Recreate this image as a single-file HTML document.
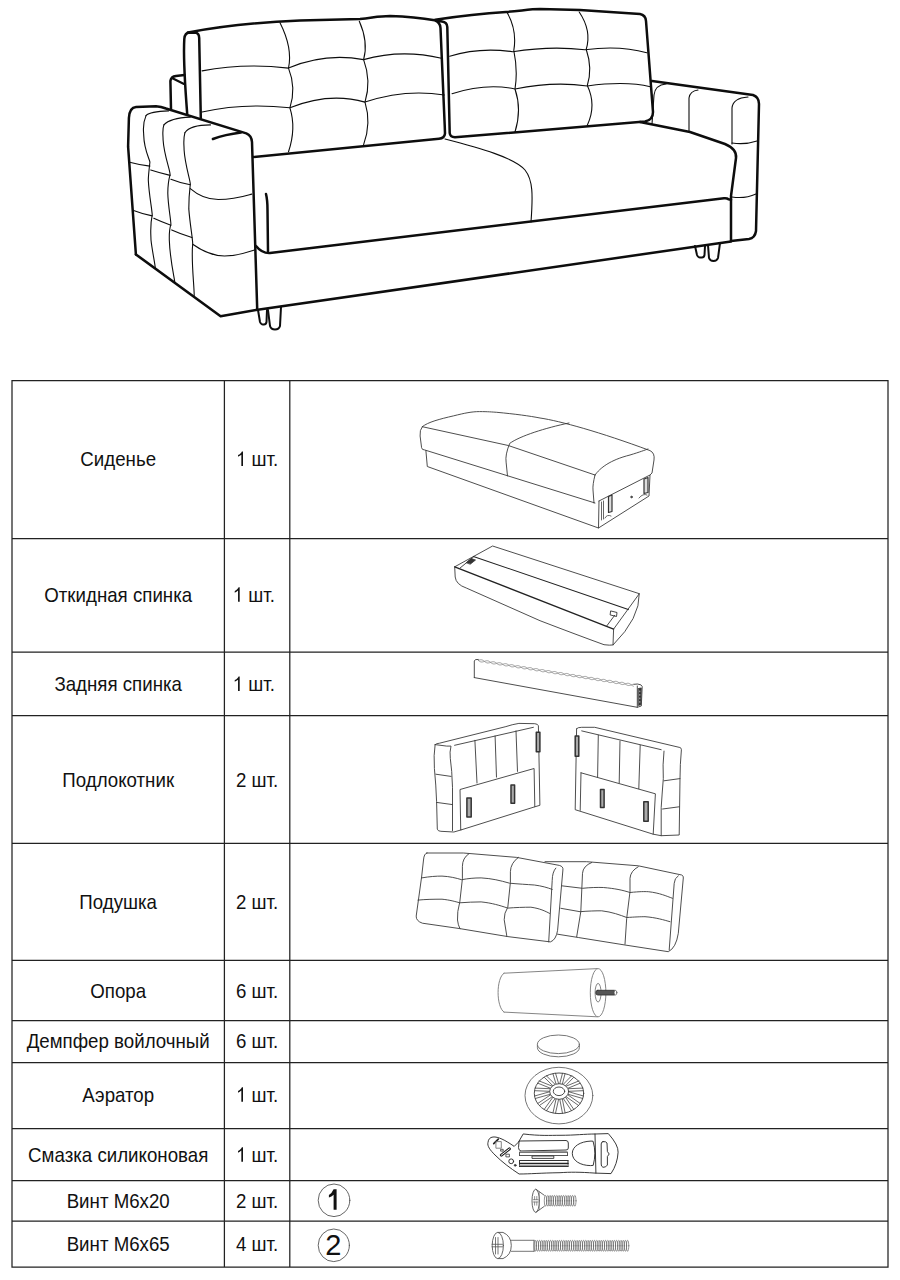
<!DOCTYPE html>
<html><head><meta charset="utf-8"><title>Комплектация</title>
<style>
html,body{margin:0;padding:0;background:#fff;width:900px;height:1280px;overflow:hidden}
svg{position:absolute;left:0;top:0;display:block}
</style></head><body>
<svg width="900" height="1280" viewBox="0 0 900 1280">
<rect width="900" height="1280" fill="#fff"/>
<g fill="none" stroke="#0d0d0d" stroke-linecap="round" stroke-linejoin="round">
<g stroke-width="2.5">
<!-- back frame left -->
<path d="M172,78 L 184,84" stroke-width="2.1"/>
<path d="M171,109 L170.4,81 Q171,76.5 176,76 L184.4,75"/>
<!-- left cushion panel -->
<path d="M187.2,114 C 185.5,90 183,62 184.3,39 Q 184.8,32.8 189.5,32.6 L 196,32.8 Q 199,33.3 199.2,38 L 200.8,118"/>
<!-- left cushion outline -->
<path d="M188,32.5 C 225,25.5 265,22 300,20.5 L 360,19 C 372,18 378,16 390,16 C 410,16.5 425,18.5 434.7,20.3 Q 440,22 440.5,28 L 444.7,125 L 445,133.5 Q 444.5,138.3 439,138.8 L 253,157"/>
<!-- right cushion -->
<path d="M435.3,19.7 C 460,16 490,13 506,12 C 520,11 530,9 540,9 L 580,10 L 640,14 Q 645.5,15 646,21 L 653,112 Q 653,120 645,121.5 L 455,137.3 Q 450,137 449.7,133 L 447.3,27 Q 447,22 442,21.5 L 437.3,21"/>
<!-- right arm -->
<path d="M652,81 L 753,95 Q 759,97 759,104 L 756,231 Q 755,238 749,239 L 731,241"/>
<path d="M640,122 L 690,132 L 725,144 Q 737,149 736,158 L 731,196 L 731,241"/>
<!-- left arm -->
<path d="M135.9,254.4 L 128.1,146.7 L 128.9,118 Q 129.5,107.5 136,107 L 156,106.2 Q 161,106.5 166,108.5 L 246.3,133.4 Q 251.5,135.5 252,142 L 257.2,308.9"/>
<path d="M212.9,139 Q 225,134.5 241,132.5"/>
<!-- base -->
<path d="M135.9,254.4 L 220.6,316.2 L 256,310 L 731,241.5"/>
<!-- seat front top -->
<path d="M256,246 Q 262,253.5 270,253 L 724,198.3 Q 727,198 728.5,199.3 L 731,199.8"/>
<path d="M266,194 Q 267.5,200 267.5,210 L 268,251"/>
</g>
<g stroke-width="2">
<path d="M258,310 L 260,322 Q 261,324.5 263,324.5 L 264,324.5 Q 266,324.5 266.5,322 L 267,310"/>
<path d="M268,310 L 270,326 Q 271,329.5 275,329.5 Q 279,329.5 280,326 L 281,307"/>
<path d="M695,246 L 697,255 Q 698,257.5 700,257.5 L 702,257.5 Q 704,257.5 704.5,255 L 705,246"/>
<path d="M708,245 L 709,258 Q 710,261 713.5,261 Q 717,261 718,258 L 720,243"/>
</g>
<g stroke-width="1.1">

<!-- left cushion tufts -->
<path d="M280,22.8 Q292.8,48.1 288.5,68.1 Q296.4,87.9 289.9,107.8 Q296.4,128.2 288.5,151.7"/>
<path d="M359.3,21.3 Q368.5,42.0 363.6,59.6 Q371.5,80.8 365,102.1 Q371.5,123.2 363.6,144.6"/>
<path d="M202.1,70.9 Q243.9,62.7 288.5,68.1 Q324.6,52.6 363.6,59.6 Q401.2,48.9 441.5,58.2"/>
<path d="M202.1,112 Q243.2,102.7 289.9,107.8 Q328.9,91.9 365,102.1 Q404.7,88.6 444.4,95"/>
<!-- right cushion tufts -->
<path d="M506.8,12 Q517.3,30.1 513.8,50.5 Q518.0,70.8 515,89 Q522.0,109.5 515,132"/>
<path d="M579.2,12 Q591.9,30.8 586.2,49.3 Q592.7,68.6 587.3,85.5 Q596.7,105.2 587.3,125.2"/>
<path d="M449.7,56.3 Q478.8,47.0 512.7,51.7 Q551.1,45.7 585,49.8 Q619.5,45.1 646.8,52.8"/>
<path d="M452,93.7 Q485.9,82.8 515,89 Q553.4,81.1 587.3,86 Q625.8,80.8 650.3,86.7"/>
<!-- seat division -->
<path d="M445,139 C 480,148 515,158 525,170 C 533,180 533,195 531,222"/>
<!-- right arm tufts -->
<path d="M652,124 L 654,95 Q 655,85 666,84"/>
<path d="M689,131 L 689,98 Q 690,91 698,90"/>
<path d="M732,144 L 732,108 Q 733,98 748,97"/>
<path d="M732,143 Q 745,145 757,141"/>
<path d="M732,197 Q 745,199 756,194"/>
<!-- left arm tufts -->
<path d="M146,115.6 Q 150,111.5 168.5,110.9"/>
<path d="M146,115.6 C 142,125 143.7,131 143.7,135 C 144,150 149.9,160 149.9,162.2 C 149,170 148.3,177.8 148.3,180 C 149,195 152.2,210 152.2,215.1 C 150,225 150.7,230 151,240 C 152,250 155.3,265 155.3,268.4"/>
<path d="M163.9,124.9 Q 170,118 190.3,117.1"/>
<path d="M163.9,124.9 C 162,130 163.1,135 163.1,140 C 164,155 170.1,170 170.1,174.7 C 168,182 167.8,190 167.8,193.3 C 168,205 170.9,220 170.9,224.4 C 169,230 169.3,235 169.3,240 C 170,260 174.8,280 174.8,282.4"/>
<path d="M184.9,132.7 Q 190,125 210.5,124.9"/>
<path d="M184.9,132.7 C 183,140 184.1,145 184.1,150 C 185,165 190.3,180 190.3,184 C 189,195 188.8,205 188.8,208.9 C 190,225 192.7,238 192.7,244 C 191,260 194.2,285 194.2,295.6"/>
<path d="M129.7,162.2 Q 140,165 149.9,166.1"/>
<path d="M150.7,170 Q 160,173 170.1,175.4"/>
<path d="M170.9,179.3 Q 180,183 190.3,184.8"/>
<path d="M190.3,188.6 C 200,197 210,199.5 218.3,199.5 C 235,199.5 245,196 251.7,194.1"/>
<path d="M133.6,210.4 Q 143,214 152.2,215.9"/>
<path d="M153.8,218.2 Q 162,222 170.9,225.2"/>
<path d="M171.7,229.9 Q 181,234 191.9,237.6"/>
<path d="M192.7,244.3 C 205,253 215,256 224.5,256 C 238,256 248,252 254.9,249.8"/>
</g>
</g>

<path stroke="#222" stroke-width="1.25" stroke-linecap="square" fill="none" d="M12,380.5H888M12,538.5H888M12,652H888M12,715.5H888M12,843.4H888M12,960.3H888M12,1020.6H888M12,1062.5H888M12,1128.7H888M12,1180.6H888M12,1221.2H888M12,1267.2H888M12,380.5V1267.2M224.4,380.5V1267.2M289.8,380.5V1267.2M888,380.5V1267.2"/>
<g font-family="Liberation Sans, sans-serif" font-size="18.7" fill="#111" text-anchor="middle"><text x="118.2" y="465.9" transform="matrix(1,0,0,1.075,0,-34.94)">Сиденье</text><text x="246.42" y="465.9" transform="matrix(1,0,0,1.075,0,-34.94)" text-anchor="start"> шт.</text><text x="118.2" y="601.8" transform="matrix(1,0,0,1.075,0,-45.13)">Откидная спинка</text><text x="243.12" y="601.8" transform="matrix(1,0,0,1.075,0,-45.13)" text-anchor="start"> шт.</text><text x="118.2" y="690.9" transform="matrix(1,0,0,1.075,0,-51.82)">Задняя спинка</text><text x="243.12" y="690.9" transform="matrix(1,0,0,1.075,0,-51.82)" text-anchor="start"> шт.</text><text x="118.2" y="787.0" transform="matrix(1,0,0,1.075,0,-59.02)">Подлокотник</text><text x="257.1" y="787.0" transform="matrix(1,0,0,1.075,0,-59.02)">2 шт.</text><text x="118.2" y="908.8" transform="matrix(1,0,0,1.075,0,-68.16)">Подушка</text><text x="257.1" y="908.8" transform="matrix(1,0,0,1.075,0,-68.16)">2 шт.</text><text x="118.2" y="998.1" transform="matrix(1,0,0,1.075,0,-74.86)">Опора</text><text x="257.1" y="998.1" transform="matrix(1,0,0,1.075,0,-74.86)">6 шт.</text><text x="118.2" y="1048.2" transform="matrix(1,0,0,1.075,0,-78.61)">Демпфер войлочный</text><text x="257.1" y="1048.2" transform="matrix(1,0,0,1.075,0,-78.61)">6 шт.</text><text x="118.2" y="1101.8" transform="matrix(1,0,0,1.075,0,-82.63)">Аэратор</text><text x="246.42" y="1101.8" transform="matrix(1,0,0,1.075,0,-82.63)" text-anchor="start"> шт.</text><text x="118.2" y="1161.8" transform="matrix(1,0,0,1.075,0,-87.13)">Смазка силиконовая</text><text x="246.42" y="1161.8" transform="matrix(1,0,0,1.075,0,-87.13)" text-anchor="start"> шт.</text><text x="118.2" y="1207.8" transform="matrix(1,0,0,1.075,0,-90.58)">Винт М6х20</text><text x="257.1" y="1207.8" transform="matrix(1,0,0,1.075,0,-90.58)">2 шт.</text><text x="118.2" y="1251.0" transform="matrix(1,0,0,1.075,0,-93.82)">Винт М6х65</text><text x="257.1" y="1251.0" transform="matrix(1,0,0,1.075,0,-93.82)">4 шт.</text></g>
<g fill="#111"><path d="M242.99,465.90L241.34,465.90L241.34,454.64Q240.75,455.25 239.78,455.86Q238.82,456.47 238.05,456.77L238.05,455.06Q239.43,454.37 240.46,453.38Q241.49,452.38 241.92,451.45L242.99,451.45Z"/><path d="M239.69,601.80L238.04,601.80L238.04,590.54Q237.45,591.15 236.48,591.76Q235.52,592.37 234.75,592.67L234.75,590.96Q236.13,590.27 237.16,589.28Q238.19,588.28 238.62,587.35L239.69,587.35Z"/><path d="M239.69,690.90L238.04,690.90L238.04,679.64Q237.45,680.25 236.48,680.86Q235.52,681.47 234.75,681.77L234.75,680.06Q236.13,679.37 237.16,678.38Q238.19,677.38 238.62,676.45L239.69,676.45Z"/><path d="M242.99,1101.80L241.34,1101.80L241.34,1090.54Q240.75,1091.15 239.78,1091.76Q238.82,1092.37 238.05,1092.67L238.05,1090.96Q239.43,1090.27 240.46,1089.28Q241.49,1088.28 241.92,1087.35L242.99,1087.35Z"/><path d="M242.99,1161.80L241.34,1161.80L241.34,1150.54Q240.75,1151.15 239.78,1151.76Q238.82,1152.37 238.05,1152.67L238.05,1150.96Q239.43,1150.27 240.46,1149.28Q241.49,1148.28 241.92,1147.35L242.99,1147.35Z"/></g>
<g fill="none" stroke="#3a3a3a" stroke-width="0.9" stroke-linejoin="round" stroke-linecap="round">
<!-- Сиденье -->
<path d="M422.3,426.7 C 428,422 440,419 453.4,415.9 C 465,413 472,411.6 479.4,411.6 C 488,411.6 492,412 496.7,412.3 C 515,414 530,416 540,418 C 560,421 600,432 650,450.6 Q 655,453 654,460 L 652,473 L 650,475"/>
<path d="M422.3,426.7 Q 419.5,430 420.1,436 L 421.6,447.7 Q 422,450 424.5,449.9 L 595,503"/>
<path d="M422.3,426.7 L 508.3,445.5 L 595,475"/>
<path d="M569,423 C 545,428 520,436 509.7,443.4 Q 505,455 506.1,462.1 L 507.5,475.9"/>
<path d="M595,475 C 600,468 610,460 630,455 C 640,452 645,450 648,449"/>
<path d="M595,475 Q 592.5,485 593,490 L 594,503"/>
<path d="M425.9,450.6 L 427.3,466.5 L 598.5,528 L 599,501"/>
<path d="M599,501 L 650,475 L 649,496 L 598.5,528"/>
<path d="M608.5,496.5 L 612,495 L 612,511.5 L 608.5,512.5 Z M 644,479 L 648,477.5 L 648,492.5 L 644,493.5 Z" stroke="#333" stroke-width="1.2" fill="#ddd"/>
<circle cx="631.5" cy="497" r="0.8" fill="#444"/>
<path d="M601.5,502 L 601.5,520 M 603.5,501 L 603.5,519 M 605,518 Q 607,514 611,516 M 639,498 Q 643,493 647,495" stroke="#555"/>
<!-- Откидная спинка -->
<path d="M454.7,566.8 L 492.6,546 L 639.3,593.7 L 613.6,629.1"/>
<path d="M454.7,566.8 L 613.6,629.1" stroke="#222" stroke-width="1.3"/>
<path d="M473.4,556.4 L 628.3,609.6" stroke="#222" stroke-width="1.1"/>
<path d="M454.7,566.8 L 455.2,577 Q 456,584.5 466.3,588 L 540,620.7 Q 580,636 604,644.7 Q 610,645.5 613,645"/>
<path d="M639.3,593.7 Q 640,618 613,645 L 613.6,629.1"/>
<path d="M459.2,568.7 L 473.4,557.1 M 606.7,626 L 614.7,615.3 M 611,611 L 617,612.5 L 616.5,616.5 L 610.5,615 Z" stroke="#333"/><path d="M466.5,562.5 L 471,558.5 L 475.5,560 L 470.5,564 Z" fill="#333" stroke="#333" stroke-width="0.8"/>
<!-- Задняя спинка -->
<path d="M474.3,677.6 L 474.3,661 Q 474.5,659 478.3,659.4 M 634,684.3 L 637.5,684 Q 642,684.5 642.2,686.5 L 641.3,706 L 637.3,707.3 L 474.3,677.6"/>
<path d="M637.3,686 L 637.3,707.3"/>
<path d="M638.6,688.5 L 641.2,688 L 640.8,704.8 L 638.6,705.3 Z" fill="#333" stroke="#333" stroke-width="0.9"/>
<path d="M639.8,691 v0.8 M639.8,694.5 v0.8 M639.8,698 v0.8 M639.8,701.5 v0.8" stroke="#ddd" stroke-width="0.8"/>
<path stroke="#777" stroke-width="0.7" d="M478.30,660.40 L478.84,660.82 L479.39,661.21 L479.94,661.54 L480.51,661.80 L481.09,661.96 L481.69,662.02 L482.30,661.99 L482.93,661.87 L483.56,661.68 L484.21,661.46 L484.85,661.22 L485.49,661.01 L486.13,660.84 L486.75,660.75 L487.36,660.75 L487.95,660.84 L488.53,661.04 L489.09,661.32 L489.64,661.67 L490.18,662.08 L490.72,662.50 L491.27,662.91 L491.81,663.29 L492.37,663.60 L492.94,663.82 L493.53,663.95 L494.13,663.98 L494.75,663.91 L495.38,663.77 L496.02,663.57 L496.67,663.34 L497.31,663.11 L497.95,662.91 L498.58,662.76 L499.20,662.70 L499.80,662.73 L500.39,662.85 L500.96,663.08 L501.52,663.39 L502.07,663.76 L502.61,664.17 L503.15,664.60 L503.69,665.00 L504.24,665.36 L504.81,665.64 L505.38,665.83 L505.97,665.93 L506.58,665.92 L507.21,665.83 L507.84,665.66 L508.48,665.45 L509.13,665.22 L509.77,664.99 L510.41,664.81 L511.03,664.69 L511.65,664.65 L512.24,664.72 L512.83,664.88 L513.39,665.13 L513.95,665.46 L514.49,665.85 L515.03,666.27 L515.57,666.69 L516.12,667.08 L516.67,667.42 L517.24,667.67 L517.82,667.83 L518.42,667.89 L519.03,667.86 L519.66,667.74 L520.30,667.56 L520.94,667.33 L521.59,667.10 L522.23,666.88 L522.86,666.72 L523.48,666.63 L524.09,666.62 L524.68,666.72 L525.26,666.91 L525.82,667.19 L526.37,667.55 L526.92,667.95 L527.46,668.37 L528.00,668.79 L528.55,669.16 L529.11,669.47 L529.68,669.69 L530.26,669.82 L530.87,669.85 L531.49,669.79 L532.12,669.64 L532.76,669.44 L533.40,669.21 L534.04,668.98 L534.68,668.78 L535.31,668.64 L535.93,668.57 L536.54,668.60 L537.12,668.73 L537.69,668.95 L538.25,669.26 L538.80,669.64 L539.34,670.05 L539.88,670.47 L540.43,670.88 L540.98,671.23 L541.54,671.51 L542.12,671.71 L542.71,671.80 L543.32,671.80 L543.94,671.70 L544.57,671.54 L545.21,671.33 L545.86,671.09 L546.50,670.87 L547.14,670.68 L547.77,670.56 L548.38,670.53 L548.98,670.59 L549.56,670.75 L550.13,671.01 L550.68,671.34 L551.23,671.73 L551.77,672.15 L552.31,672.57 L552.85,672.96 L553.41,673.29 L553.97,673.55 L554.56,673.71 L555.15,673.77 L555.77,673.73 L556.39,673.61 L557.03,673.43 L557.67,673.21 L558.32,672.97 L558.96,672.76 L559.59,672.59 L560.22,672.50 L560.83,672.50 L561.42,672.59 L561.99,672.78 L562.56,673.07 L563.11,673.42 L563.65,673.83 L564.19,674.25 L564.73,674.66 L565.28,675.04 L565.84,675.34 L566.41,675.57 L567.00,675.70 L567.60,675.73 L568.22,675.66 L568.85,675.52 L569.49,675.32 L570.13,675.09 L570.78,674.86 L571.42,674.66 L572.05,674.51 L572.67,674.45 L573.27,674.48 L573.86,674.60 L574.43,674.83 L574.99,675.14 L575.53,675.51 L576.08,675.92 L576.62,676.35 L577.16,676.75 L577.71,677.11 L578.27,677.39 L578.85,677.58 L579.44,677.68 L580.05,677.67 L580.67,677.58 L581.31,677.41 L581.95,677.20 L582.59,676.97 L583.24,676.74 L583.87,676.56 L584.50,676.44 L585.11,676.40 L585.71,676.46 L586.29,676.63 L586.86,676.88 L587.41,677.21 L587.96,677.60 L588.50,678.02 L589.04,678.44 L589.59,678.83 L590.14,679.17 L590.71,679.42 L591.29,679.58 L591.89,679.64 L592.50,679.61 L593.13,679.49 L593.76,679.30 L594.41,679.08 L595.05,678.85 L595.69,678.63 L596.33,678.47 L596.95,678.37 L597.56,678.37 L598.15,678.47 L598.73,678.66 L599.29,678.94 L599.84,679.30 L600.38,679.70 L600.92,680.12 L601.47,680.54 L602.01,680.91 L602.57,681.22 L603.14,681.44 L603.73,681.57 L604.33,681.60 L604.95,681.54 L605.58,681.39 L606.22,681.19 L606.87,680.96 L607.51,680.73 L608.15,680.53 L608.78,680.39 L609.40,680.32 L610.00,680.35 L610.59,680.48 L611.16,680.70 L611.72,681.01 L612.27,681.39 L612.81,681.80 L613.35,682.22 L613.89,682.62 L614.44,682.98 L615.00,683.26 L615.58,683.46 L616.17,683.55 L616.78,683.55 L617.40,683.45 L618.04,683.29 L618.68,683.07 L619.33,682.84 L619.97,682.62 L620.61,682.43 L621.23,682.31 L621.85,682.28 L622.44,682.34 L623.03,682.50 L623.59,682.75 L624.15,683.09 L624.69,683.48 L625.23,683.90 L625.77,684.32 L626.32,684.71 L626.87,685.04 L627.44,685.30 L628.02,685.46 L628.62,685.52 L629.23,685.48 L629.86,685.36 L630.50,685.18 L631.14,684.96 L631.79,684.72 L632.43,684.51 L633.06,684.34 L633.68,684.25 M478.30,660.40 L478.94,660.17 L479.58,659.97 L480.21,659.83 L480.83,659.76 L481.44,659.79 L482.02,659.92 L482.59,660.14 L483.15,660.45 L483.70,660.82 L484.24,661.24 L484.78,661.66 L485.33,662.06 L485.88,662.42 L486.44,662.70 L487.02,662.89 L487.61,662.99 L488.22,662.99 L488.84,662.89 L489.47,662.73 L490.11,662.51 L490.76,662.28 L491.40,662.06 L492.04,661.87 L492.67,661.75 L493.28,661.72 L493.88,661.78 L494.46,661.94 L495.03,662.19 L495.58,662.53 L496.13,662.92 L496.67,663.34 L497.21,663.76 L497.75,664.15 L498.31,664.48 L498.87,664.73 L499.46,664.90 L500.05,664.96 L500.67,664.92 L501.29,664.80 L501.93,664.62 L502.57,664.39 L503.22,664.16 L503.86,663.95 L504.49,663.78 L505.12,663.69 L505.73,663.68 L506.32,663.78 L506.89,663.97 L507.46,664.26 L508.01,664.61 L508.55,665.01 L509.09,665.44 L509.63,665.85 L510.18,666.22 L510.74,666.53 L511.31,666.76 L511.90,666.89 L512.50,666.91 L513.12,666.85 L513.75,666.71 L514.39,666.50 L515.03,666.27 L515.68,666.04 L516.32,665.84 L516.95,665.70 L517.57,665.63 L518.17,665.66 L518.76,665.79 L519.33,666.02 L519.89,666.32 L520.43,666.70 L520.98,667.11 L521.52,667.54 L522.06,667.94 L522.61,668.29 L523.17,668.58 L523.75,668.77 L524.34,668.86 L524.95,668.86 L525.57,668.77 L526.21,668.60 L526.85,668.39 L527.49,668.15 L528.14,667.93 L528.77,667.75 L529.40,667.63 L530.01,667.59 L530.61,667.65 L531.19,667.81 L531.76,668.07 L532.31,668.40 L532.86,668.79 L533.40,669.21 L533.94,669.63 L534.49,670.02 L535.04,670.35 L535.61,670.61 L536.19,670.77 L536.79,670.83 L537.40,670.80 L538.03,670.68 L538.66,670.49 L539.31,670.27 L539.95,670.04 L540.59,669.82 L541.23,669.66 L541.85,669.56 L542.46,669.56 L543.05,669.65 L543.63,669.85 L544.19,670.13 L544.74,670.48 L545.28,670.89 L545.82,671.31 L546.37,671.72 L546.91,672.10 L547.47,672.41 L548.04,672.63 L548.63,672.76 L549.23,672.79 L549.85,672.72 L550.48,672.58 L551.12,672.38 L551.77,672.15 L552.41,671.92 L553.05,671.72 L553.68,671.57 L554.30,671.51 L554.90,671.54 L555.49,671.67 L556.06,671.89 L556.62,672.20 L557.17,672.57 L557.71,672.99 L558.25,673.41 L558.79,673.81 L559.34,674.17 L559.91,674.45 L560.48,674.64 L561.07,674.74 L561.68,674.73 L562.31,674.64 L562.94,674.48 L563.58,674.26 L564.23,674.03 L564.87,673.81 L565.51,673.62 L566.13,673.50 L566.75,673.47 L567.34,673.53 L567.93,673.69 L568.49,673.94 L569.05,674.28 L569.59,674.67 L570.13,675.09 L570.67,675.51 L571.22,675.90 L571.77,676.23 L572.34,676.48 L572.92,676.64 L573.52,676.71 L574.13,676.67 L574.76,676.55 L575.40,676.37 L576.04,676.14 L576.69,675.91 L577.33,675.70 L577.96,675.53 L578.58,675.44 L579.19,675.43 L579.78,675.53 L580.36,675.72 L580.92,676.00 L581.47,676.36 L582.02,676.76 L582.56,677.19 L583.10,677.60 L583.65,677.97 L584.20,678.28 L584.78,678.51 L585.36,678.63 L585.97,678.66 L586.58,678.60 L587.22,678.45 L587.86,678.25 L588.50,678.02 L589.14,677.79 L589.78,677.59 L590.41,677.45 L591.03,677.38 L591.64,677.41 L592.22,677.54 L592.79,677.76 L593.35,678.07 L593.90,678.45 L594.44,678.86 L594.98,679.28 L595.53,679.69 L596.08,680.04 L596.64,680.33 L597.22,680.52 L597.81,680.61 L598.42,680.61 L599.04,680.52 L599.67,680.35 L600.31,680.14 L600.96,679.90 L601.60,679.68 L602.24,679.50 L602.87,679.38 L603.48,679.34 L604.08,679.40 L604.66,679.56 L605.23,679.82 L605.78,680.15 L606.33,680.54 L606.87,680.96 L607.41,681.38 L607.95,681.77 L608.51,682.10 L609.07,682.36 L609.66,682.52 L610.25,682.58 L610.87,682.55 L611.49,682.43 L612.13,682.24 L612.77,682.02 L613.42,681.78 L614.06,681.57 L614.69,681.41 L615.32,681.31 L615.93,681.31 L616.52,681.40 L617.09,681.60 L617.66,681.88 L618.21,682.23 L618.75,682.64 L619.29,683.06 L619.83,683.47 L620.38,683.85 L620.94,684.16 L621.51,684.38 L622.10,684.51 L622.70,684.54 L623.32,684.47 L623.95,684.33 L624.59,684.13 L625.23,683.90 L625.88,683.67 L626.52,683.47 L627.15,683.32 L627.77,683.26 L628.37,683.29 L628.96,683.41 L629.53,683.64 L630.09,683.95 L630.63,684.32 L631.18,684.74 L631.72,685.16 L632.26,685.56 L632.81,685.92 L633.37,686.20"/>
<!-- Подлокотник левый -->
<path d="M435.1,744.6 Q 436,743.5 439.5,743.2 L 505.9,726.6 Q 512,724.5 518.9,723.4 L 534.8,723.7 Q 538,724 538.4,725.8 L 539.9,805.3 L 534.8,806.8"/>
<path d="M435.1,744.6 Q 433.5,755 434.4,768.5 Q 436,785 436.6,801.7 L 437.3,829.2 Q 438,831.3 440.9,831.3 L 453.9,832 L 461.1,829.9"/>
<path d="M435.1,744.6 L 446.7,746.1 L 451,746.1 Q 449.5,752 450.3,758.4 Q 452,770 452.5,787.3 L 452.5,830.6"/>
<path d="M454.6,745.3 L 533.4,727.3"/>
<path d="M474.9,740.3 L 477,783 M 495.1,736 L 496.5,777.1 M 516,730.9 L 517.5,771.4"/>
<path d="M435.8,774.2 L 451,776.4 M 436.6,802.4 L 452.5,804.6"/>
<path d="M460.4,789.4 L 534.1,768.5 L 534.8,806.8 L 461.1,829.9 Z"/>
<path d="M466.9,798.1 h 4.3 v 18.8 h -4.3 Z M 511,785.1 h 3.6 v 18.1 h -3.6 Z M 536.3,732.3 h 3.6 v 19.5 h -3.6 Z" stroke="#333" stroke-width="1.5" fill="#aaa"/>
<!-- Подлокотник правый -->
<path d="M576.6,728.7 Q 577.5,727.3 581.7,727.3 L 594.7,727.3 L 679.9,747.5 Q 681.5,748 681.4,749.7 Q 680,765 680,778.6 L 679.2,835 L 661.2,835.7 L 653.2,834.2 L 575.2,809.7 L 576.6,728.7"/>
<path d="M581.7,730.9 L 661.2,749.7"/>
<path d="M664,751.1 Q 662.5,765 663.3,778.6 Q 662,795 661.2,807.5 L 661.2,835.7"/>
<path d="M664,780.8 L 680,778.6 M 662.6,809 L 679.2,806.8"/>
<path d="M598.3,735.2 L 597.6,777.1 M 620,741 L 619.2,782.9 M 640.2,745.3 L 638.8,788.7"/>
<path d="M581,772.8 L 655.4,793.8 L 653.2,834.2 M 581,772.8 L 580.2,810.4"/>
<path d="M575.2,736 h 3.6 v 20.2 h -3.6 Z M 600.5,789.4 h 3.6 v 18.1 h -3.6 Z M 643.8,801.7 h 4.4 v 19.5 h -4.4 Z" stroke="#333" stroke-width="1.5" fill="#aaa"/>
<!-- Подушка 2 (behind) -->
<path d="M545,861.7 L 586.7,861.7 L 638.3,865.8 L 681.7,875 Q 683.8,876 683.3,878 L 678.3,933.3 Q 676,948 668.3,951.7 L 625,945 L 578.3,937.5 L 557.5,934.2"/>
<path d="M678.3,875.8 Q 674.5,878 674.2,883.3 L 669.2,950"/>
<path d="M591.7,862.5 Q 583,866 582.5,873.3 L 580.8,911.7 L 576.7,936.7"/>
<path d="M638.3,866.7 Q 630.5,871 630,878.3 L 630,891.7 L 626.7,918.3 L 625,944.2"/>
<path d="M561.7,885.8 L 582.5,888.3 C 590,887.5 598,887.3 603.3,887.5 C 615,888.5 622,890 630,892.5 C 640,891.5 644,891.5 648.3,891.7 C 660,893 666,896 672.5,898.3"/>
<path d="M560.8,908.3 L 580,911.7 C 588,911 596,910.8 601.7,910.8 C 612,912 620,915 626.7,917.5 C 635,917 640,916.7 645,916.7 C 656,917.5 664,920 670,921.7"/>
<!-- Подушка 1 (front) -->
<path d="M426.9,853 L 463.3,853 L 516.7,857.4 L 559.3,865.4 Q 563.5,866.5 562.9,870 L 557.6,930.3 Q 556,940 550.4,941.9 L 507.8,936.6 L 459.8,928.6 L 422.4,923.2 Q 416,921 416.2,916.1 L 421.6,877 L 423.5,860 Q 424,853.5 426.9,853 Z" fill="#fff"/>
<path d="M555.8,868.1 Q 552.3,872 552.2,880.6 L 548.7,941.9"/>
<path d="M468.7,853.9 Q 462.5,858 462.4,866.3 L 462.4,878.8 L 459.8,901.9 Q 457,912 457.5,920 Q 458,925 460,928.8"/>
<path d="M518.4,857.4 Q 510.6,863 510.4,871.7 L 510.4,882.3 L 507.8,907.2 Q 504,913 504.2,919.7 L 506.9,936.6"/>
<path d="M421.6,877.9 C 430,876.5 436,876.1 442,876.1 C 450,876.5 456,878 461.6,879.7 C 468,878.5 474,877.9 481.1,877.9 C 492,878.5 500,880.5 509.6,883.2 C 518,884 527,884.5 534.4,885 C 542,886 547,887.5 552.2,889.4"/>
<path d="M418,900.1 C 426,899.3 434,899.2 442,899.2 C 450,900 455,901.5 459.8,902.8 C 467,902.3 474,901.9 481.1,901.9 C 492,903 500,905.5 507.8,908.1 C 515,907.5 524,907.2 530.9,907.2 C 540,908.5 545,911 549.6,913.4"/>
<!-- Опора -->
<path stroke="#777" d="M504,973.2 L 597.3,968.6 M 504,1012.1 L 597.3,1016.8 M 504,973.2 C 496,978 496,1007 504,1012.1"/>
<ellipse cx="598.1" cy="992.7" rx="7.8" ry="24.1" fill="#fff" stroke="#777"/>
<ellipse cx="598.1" cy="992.7" rx="3" ry="9.3" stroke="#777"/>
<rect x="595.8" y="990.3" width="20.5" height="4.7" rx="2" fill="#555" stroke="#333"/>
<ellipse cx="615.5" cy="992.65" rx="1.4" ry="2.3" fill="#fff" stroke="#444" stroke-width="0.6"/>
<!-- Демпфер -->
<path stroke="#666" d="M537.4,1044.8 L 537.4,1047.5 A 21 9.3 0 0 0 579.4,1047.5 L 579.4,1044.8"/>
<ellipse cx="558.4" cy="1044.3" rx="21" ry="9.3" fill="#fff" stroke="#666"/>
<!-- Аэратор -->
<ellipse cx="558.9" cy="1095.6" rx="33.9" ry="28.3" stroke="#666"/>
<ellipse cx="559" cy="1093.3" rx="24.7" ry="20.3"/>
<path stroke="#444" stroke-width="0.8" d="M568.9,1091.8 L583.4,1096.0 M568.2,1094.3 L582.7,1098.5 M567.8,1094.8 L580.1,1103.4 M566.4,1096.9 L578.6,1105.5 M565.6,1097.3 L573.7,1109.3 M563.4,1098.7 L571.5,1110.7 M562.3,1098.9 L565.1,1112.8 M559.8,1099.4 L562.5,1113.3 M558.6,1099.4 L555.5,1113.3 M556.1,1098.9 L553.0,1112.7 M555.0,1098.7 L546.4,1110.8 M552.9,1097.2 L544.3,1109.3 M552.0,1096.9 L539.4,1105.5 M550.6,1094.8 L537.9,1103.4 M550.2,1094.3 L535.3,1098.5 M549.5,1091.8 L534.6,1096.0 M549.8,1091.3 L534.9,1090.7 M549.9,1088.7 L535.0,1088.1 M550.8,1088.4 L538.1,1083.3 M551.8,1086.0 L539.1,1080.9 M553.0,1085.9 L544.5,1077.5 M554.8,1084.1 L546.3,1075.7 M556.1,1084.2 L553.0,1074.0 M558.6,1083.5 L555.5,1073.2 M559.8,1083.5 L562.5,1073.3 M562.3,1084.2 L565.0,1073.9 M563.5,1084.1 L571.7,1075.7 M565.4,1085.9 L573.5,1077.5 M566.6,1086.0 L578.9,1080.9 M567.6,1088.4 L579.9,1083.3 M568.5,1088.7 L583.0,1088.1 M568.6,1091.3 L583.1,1090.7"/>
<ellipse cx="559.2" cy="1091.5" rx="9.5" ry="7.8" fill="#fff"/>
<ellipse cx="559" cy="1091.3" rx="5.7" ry="4.3"/>
<!-- Смазка -->
<path d="M523.6,1134 C 540,1136 550,1135.3 560,1135.3 C 575,1135.3 585,1134 595,1134 L 608.3,1133.6 Q 618.5,1145 618.1,1152.2 Q 617.5,1164 611,1173.6 L 595,1173.1 C 580,1172 570,1172 560,1172.7 C 540,1173 530,1174 519.1,1174 C 510,1168 502,1162 495,1155 C 490,1150 487,1146 488,1142.4 Q 488.5,1137.5 493,1137 C 498,1136.5 505,1140 514.2,1146.4 L 518.2,1142.4 Z" stroke="#222"/>
<path d="M595,1134 L 595.9,1173.1" stroke="#222"/>
<path d="M519.5,1141 L 566,1140.5 Q 568.3,1140.7 568.3,1143 L 568.3,1148 Q 568.3,1150 566,1150 L 521,1151 Q 518.5,1150.5 518.5,1148 Z" stroke="#222"/>
<path d="M519.5,1152.5 L 567.5,1152.5 M 519.5,1155.5 L 567.5,1155.5 M 519.5,1152.5 L 519.5,1155.5 M 567.5,1152.5 L 567.5,1155.5" stroke="#444"/>
<rect x="532.4" y="1156" width="21.4" height="2.4" stroke="#333"/>
<path d="M519.5,1160.5 L 568,1160.5 M 519.5,1163.5 L 568,1163.5 M 519.5,1166.5 L 568,1166.5 M 519.5,1160.5 L 519.5,1166.5 M 568,1160.5 L 568,1166.5" stroke="#333" stroke-width="1"/>
<path d="M590.6,1141.1 C 580,1141.5 572.3,1146.5 572.3,1153.3 C 572.3,1160.5 580,1165.5 590.6,1165.6 L 593.2,1165.4 Q 596.5,1153 593.2,1141.6 Z" stroke="#222"/>
<path d="M603,1141.6 Q 606,1141.2 607,1143 L 607.4,1151.5 L 609.2,1154 L 607.4,1156.5 L 607.4,1165 Q 606,1167.5 603,1167.3 Q 601,1166.5 601.2,1164 L 601.2,1144 Q 601,1142 603,1141.6 Z" stroke="#222"/>
<path d="M493.7,1143.6 L 498.3,1139.1" stroke="#222" stroke-width="1.6"/>
<rect x="496.3" y="1141.6" width="5" height="6.6" stroke="#777" stroke-width="0.9"/>
<path d="M501.4,1155.1 L 509.4,1148.9" stroke="#222" stroke-width="3"/>
<path d="M501.4,1155.1 L 509.4,1148.9" stroke="#fff" stroke-width="1"/>
<rect x="501" y="1149.3" width="2.2" height="1.8" stroke="#333" stroke-width="0.8"/>
<rect x="506.3" y="1154.2" width="3.1" height="2.7" stroke="#333" stroke-width="0.8"/>
<circle cx="511.2" cy="1161.3" r="2.4" stroke="#222"/>
<circle cx="515.2" cy="1165.3" r="0.9" fill="#222"/>
<path d="M520,1151.8 L 567,1151.8" stroke="#999" stroke-width="1.4"/>
<path d="M520,1165.2 L 568,1165.2" stroke="#999" stroke-width="1.4"/>
<path d="M520,1163.3 L 568,1163.3" stroke="#222" stroke-width="1.2"/>
<!-- circles -->
<ellipse cx="334" cy="1200.3" rx="15.8" ry="16.3" stroke="#555" stroke-width="0.9"/>
<ellipse cx="333.8" cy="1245.3" rx="15.6" ry="16.3" stroke="#555" stroke-width="0.9"/>
<!-- screw 1 -->
<ellipse cx="535.7" cy="1200.8" rx="3.7" ry="11.5" stroke="#555"/>
<path d="M539.3,1192 L 539.3,1209.6" stroke="#777" stroke-width="0.7"/>
<path d="M536,1189.3 L 544.3,1195.3 M 536,1212.3 L 544.3,1206.3" stroke="#555"/>
<path d="M534.6,1196.5 v 3.2 M 536.8,1196.5 v 3.2 M 534.6,1202 v 3.2 M 536.8,1202 v 3.2 M 533.2,1199.7 h 5 M 533.2,1202 h 5" stroke="#666" stroke-width="0.7"/>
<g stroke="#666" stroke-width="0.7"><ellipse cx="545.5" cy="1200.8" rx="1.2" ry="5.4"/><ellipse cx="547.8" cy="1200.8" rx="1.2" ry="5.4"/><ellipse cx="550.0" cy="1200.8" rx="1.2" ry="5.4"/><ellipse cx="552.2" cy="1200.8" rx="1.2" ry="5.4"/><ellipse cx="554.5" cy="1200.8" rx="1.2" ry="5.4"/><ellipse cx="556.8" cy="1200.8" rx="1.2" ry="5.4"/><ellipse cx="559.0" cy="1200.8" rx="1.2" ry="5.4"/><ellipse cx="561.2" cy="1200.8" rx="1.2" ry="5.4"/><ellipse cx="563.5" cy="1200.8" rx="1.2" ry="5.4"/><ellipse cx="565.8" cy="1200.8" rx="1.2" ry="5.4"/><ellipse cx="568.0" cy="1200.8" rx="1.2" ry="5.4"/><ellipse cx="570.2" cy="1200.8" rx="1.2" ry="5.4"/><ellipse cx="572.5" cy="1200.8" rx="1.2" ry="5.4"/><ellipse cx="574.8" cy="1200.8" rx="1.2" ry="5.4"/></g>
<!-- screw 2 -->
<path d="M498,1232.4 L 503,1232.4 Q 511.3,1236 511.3,1245.5 Q 511.3,1255 503,1258.6 L 498,1258.6" stroke="#555"/>
<ellipse cx="497.8" cy="1245.5" rx="5.6" ry="13.1" stroke="#555"/>
<path d="M511.3,1240.3 L 534,1240.3 M 511.3,1251.3 L 534,1251.3 M 534,1240.3 L 534,1251.3" stroke="#666"/>
<path d="M495.5,1237.5 v 16.5 M 498,1237.5 v 16.5 M 492,1244.3 h 10.5 M 492,1246.8 h 10.5" stroke="#555" stroke-width="0.8"/>
<g stroke="#666" stroke-width="0.7"><ellipse cx="535.2" cy="1245.8" rx="1.2" ry="5.5"/><ellipse cx="537.4" cy="1245.8" rx="1.2" ry="5.5"/><ellipse cx="539.6" cy="1245.8" rx="1.2" ry="5.5"/><ellipse cx="541.8" cy="1245.8" rx="1.2" ry="5.5"/><ellipse cx="544.0" cy="1245.8" rx="1.2" ry="5.5"/><ellipse cx="546.2" cy="1245.8" rx="1.2" ry="5.5"/><ellipse cx="548.4" cy="1245.8" rx="1.2" ry="5.5"/><ellipse cx="550.6" cy="1245.8" rx="1.2" ry="5.5"/><ellipse cx="552.8" cy="1245.8" rx="1.2" ry="5.5"/><ellipse cx="555.0" cy="1245.8" rx="1.2" ry="5.5"/><ellipse cx="557.2" cy="1245.8" rx="1.2" ry="5.5"/><ellipse cx="559.4" cy="1245.8" rx="1.2" ry="5.5"/><ellipse cx="561.6" cy="1245.8" rx="1.2" ry="5.5"/><ellipse cx="563.8" cy="1245.8" rx="1.2" ry="5.5"/><ellipse cx="566.0" cy="1245.8" rx="1.2" ry="5.5"/><ellipse cx="568.2" cy="1245.8" rx="1.2" ry="5.5"/><ellipse cx="570.4" cy="1245.8" rx="1.2" ry="5.5"/><ellipse cx="572.6" cy="1245.8" rx="1.2" ry="5.5"/><ellipse cx="574.8" cy="1245.8" rx="1.2" ry="5.5"/><ellipse cx="577.0" cy="1245.8" rx="1.2" ry="5.5"/><ellipse cx="579.2" cy="1245.8" rx="1.2" ry="5.5"/><ellipse cx="581.4" cy="1245.8" rx="1.2" ry="5.5"/><ellipse cx="583.6" cy="1245.8" rx="1.2" ry="5.5"/><ellipse cx="585.8" cy="1245.8" rx="1.2" ry="5.5"/><ellipse cx="588.0" cy="1245.8" rx="1.2" ry="5.5"/><ellipse cx="590.2" cy="1245.8" rx="1.2" ry="5.5"/><ellipse cx="592.4" cy="1245.8" rx="1.2" ry="5.5"/><ellipse cx="594.6" cy="1245.8" rx="1.2" ry="5.5"/><ellipse cx="596.8" cy="1245.8" rx="1.2" ry="5.5"/><ellipse cx="599.0" cy="1245.8" rx="1.2" ry="5.5"/><ellipse cx="601.2" cy="1245.8" rx="1.2" ry="5.5"/><ellipse cx="603.4" cy="1245.8" rx="1.2" ry="5.5"/><ellipse cx="605.6" cy="1245.8" rx="1.2" ry="5.5"/><ellipse cx="607.8" cy="1245.8" rx="1.2" ry="5.5"/><ellipse cx="610.0" cy="1245.8" rx="1.2" ry="5.5"/><ellipse cx="612.2" cy="1245.8" rx="1.2" ry="5.5"/><ellipse cx="614.4" cy="1245.8" rx="1.2" ry="5.5"/><ellipse cx="616.6" cy="1245.8" rx="1.2" ry="5.5"/><ellipse cx="618.8" cy="1245.8" rx="1.2" ry="5.5"/><ellipse cx="621.0" cy="1245.8" rx="1.2" ry="5.5"/><ellipse cx="623.2" cy="1245.8" rx="1.2" ry="5.5"/><ellipse cx="625.4" cy="1245.8" rx="1.2" ry="5.5"/><ellipse cx="627.6" cy="1245.8" rx="1.2" ry="5.5"/></g>
</g>
</g>

<g font-family="Liberation Sans, sans-serif" fill="#111" text-anchor="middle">
<path d="M333.6,1189.3 L336.6,1189.3 L336.6,1209.8 L333.6,1209.8 L333.6,1194.8 Q331.5,1196.8 328.9,1197.6 L328.9,1194.9 Q332,1193.2 333.6,1189.3 Z"/>
<text x="333.4" y="1255" font-size="29">2</text>
</g>
</svg>
</body></html>
